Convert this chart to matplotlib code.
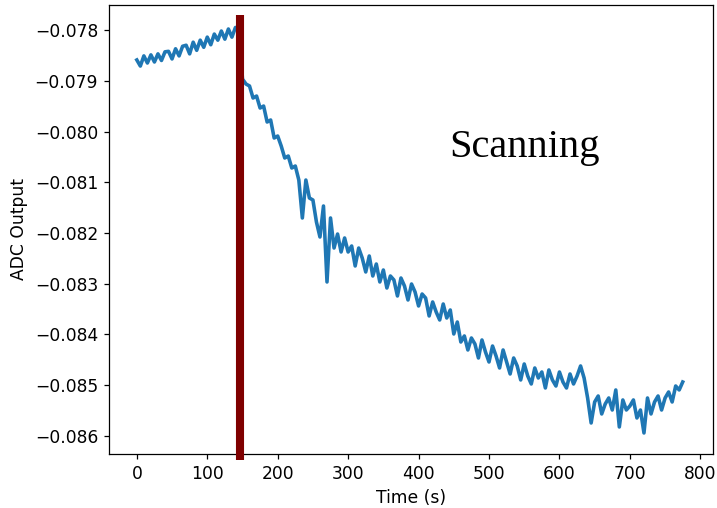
import numpy as np
import matplotlib
matplotlib.use("Agg")
import matplotlib.pyplot as plt

adc_pre = [
    -0.07859, -0.07871, -0.07851, -0.07865, -0.07849, -0.07863, -0.07847, -0.07860,
    -0.07843, -0.07842, -0.07857, -0.07837, -0.07851, -0.07832, -0.07830, -0.07847,
    -0.07824, -0.07840, -0.07820, -0.07834, -0.07814, -0.07829, -0.07808, -0.07820,
    -0.07802, -0.07818, -0.07798, -0.07814, -0.07795, -0.07796,
]
adc_post = [
    -0.078966, -0.079064, -0.079103, -0.079340, -0.079301, -0.079537, -0.079498, -0.079813, -0.079773, -0.080128,
    -0.080089, -0.080286, -0.080522, -0.080483, -0.080719, -0.080680, -0.080956, -0.081704, -0.080956, -0.081310,
    -0.081350, -0.081783, -0.082079, -0.081468, -0.082965, -0.081704, -0.082296, -0.082020, -0.082374, -0.082098,
    -0.082374, -0.082256, -0.082650, -0.082296, -0.082493, -0.082768, -0.082453, -0.082847, -0.082611, -0.082965,
    -0.082729, -0.083084, -0.082847, -0.082926, -0.083241, -0.082887, -0.083044, -0.083320, -0.083005, -0.083162,
    -0.083438, -0.083202, -0.083281, -0.083635, -0.083359, -0.083557, -0.083714, -0.083399, -0.083675, -0.083517,
    -0.083990, -0.083754, -0.084148, -0.084029, -0.084305, -0.084069, -0.084187, -0.084463, -0.084108, -0.084345,
    -0.084542, -0.084227, -0.084424, -0.084660, -0.084305, -0.084542, -0.084778, -0.084463, -0.084620, -0.084896,
    -0.084581, -0.084818, -0.084975, -0.084660, -0.084857, -0.084739, -0.085054, -0.084699, -0.084896, -0.085015,
    -0.084739, -0.084936, -0.085054, -0.084778, -0.084975, -0.084818, -0.084620, -0.084857, -0.085251, -0.085744,
    -0.085330, -0.085212, -0.085566, -0.085369, -0.085251, -0.085488, -0.085093, -0.085822, -0.085290, -0.085488,
    -0.085409, -0.085290, -0.085645, -0.085488, -0.085941, -0.085251, -0.085566, -0.085330, -0.085212, -0.085488,
    -0.085251, -0.085133, -0.085330, -0.085015, -0.085093, -0.084936,
]
adc_values = adc_pre + adc_post
sample_step_s = 5
time_s = np.arange(len(adc_values)) * sample_step_s

scan_start_s = 146
marker_top, marker_bottom = -0.0777, -0.08647
x_limits = (-39.5, 818)
y_limits = (-0.086355, -0.077507)
x_ticks = [0, 100, 200, 300, 400, 500, 600, 700, 800]
y_ticks = [-0.078, -0.079, -0.080, -0.081, -0.082, -0.083, -0.084, -0.085, -0.086]
annotation = "Scanning"

plt.rcParams["font.size"] = 11

fig = plt.figure(figsize=(717 / 112, 508 / 112), dpi=112)
ax = fig.add_axes([109 / 717, 1 - 454 / 508, (713 - 109) / 717, (454 - 5) / 508])

ax.plot(time_s, adc_values, color="#1f77b4", lw=2.3)
ax.plot([scan_start_s, scan_start_s], [marker_top, marker_bottom], color="#7f0000",
        lw=5.2, solid_capstyle="butt", scalex=False, scaley=False, clip_on=False, zorder=3)

ax.text(443, -0.0805, annotation, family="Liberation Serif", fontsize=26,
        ha="left", va="baseline")

ax.set_xlim(*x_limits)
ax.set_ylim(*y_limits)
ax.set_xticks(x_ticks)
ax.set_yticks(y_ticks)
ax.set_yticklabels([f"{v:.3f}".replace("-", "\u2212") for v in y_ticks])
ax.set_xlabel("Time (s)")
ax.set_ylabel("ADC Output")

fig.savefig("out.png", dpi=112)
